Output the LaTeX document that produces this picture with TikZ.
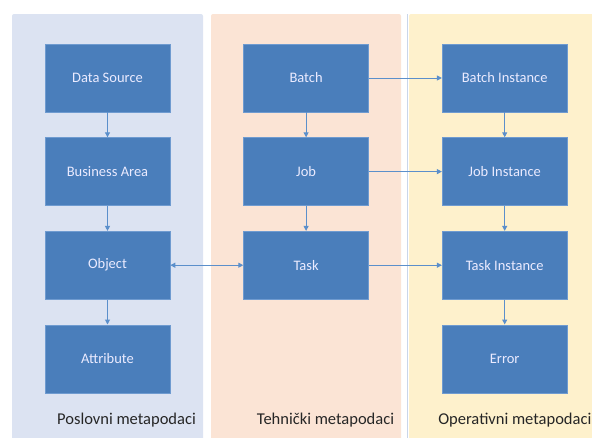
\documentclass[tikz,border=0pt]{standalone}
\usepackage{fontspec}
\setmainfont{Carlito}
\usepackage{xcolor}
\usetikzlibrary{positioning,arrows.meta}

\definecolor{boxblue}{HTML}{4A7EBB}
\definecolor{boxline}{HTML}{6F9BD0}
\definecolor{arrowblue}{HTML}{5B8FCB}
\definecolor{panelblue}{HTML}{DCE3F2}
\definecolor{panelpeach}{HTML}{FBE4D5}
\definecolor{panelyellow}{HTML}{FEF1CC}
\definecolor{sepline}{HTML}{C9D6EA}

\begin{document}
\begin{tikzpicture}[
    x=1pt, y=-1pt,
    entity/.style={rectangle, draw=boxline, fill=boxblue, line width=0.6pt,
                   minimum width=125pt, minimum height=68pt, inner sep=2pt,
                   text=white!92!blue, font=\fontsize{14.5}{17}\selectfont},
    panel/.style={draw=none, rounded corners=2pt},
    caption/.style={font=\fontsize{16.5}{20}\selectfont, text=black!85},
    arrow/.style={-{Triangle[length=5pt,width=5pt]}, line width=1pt, draw=arrowblue},
    twoway/.style={{Triangle[length=5pt,width=5pt]}-{Triangle[length=5pt,width=5pt]},
                   line width=1pt, draw=arrowblue},
    node distance=25pt and 73pt
]
\clip (0,0) rectangle (592,437);

% Background panels
\fill[panel, panelblue] (12,14) rectangle (203,460);
\fill[panel, panelpeach] (211,14) rectangle (401,460);
\fill[panel, panelyellow] (409,14) rectangle (610,460);
\draw[sepline, line width=1pt] (407.5,14) -- (407.5,460);

% Poslovni metapodaci
\node[entity] (source) at (107.5,78) {Data Source};
\node[entity, below=of source] (area) {Business Area};
\node[entity, below=of area] (object) {Object};
\node[entity, below=of object] (attribute) {Attribute};

% Tehnicki metapodaci
\node[entity, right=of source] (batch) {Batch};
\node[entity, below=of batch] (job) {Job};
\node[entity, below=of job] (task) {Task};

% Operativni metapodaci
\node[entity, right=of batch] (batchinst) {Batch Instance};
\node[entity, below=of batchinst] (jobinst) {Job Instance};
\node[entity, below=of jobinst] (taskinst) {Task Instance};
\node[entity, below=of taskinst] (error) {Error};

% Vertical arrows
\draw[arrow] (source) -- (area);
\draw[arrow] (area) -- (object);
\draw[arrow] (object) -- (attribute);
\draw[arrow] (batch) -- (job);
\draw[arrow] (job) -- (task);
\draw[arrow] (batchinst) -- (jobinst);
\draw[arrow] (jobinst) -- (taskinst);
\draw[arrow] (taskinst) -- (error);

% Horizontal arrows
\draw[twoway] (object) -- (task);
\draw[arrow] (batch) -- (batchinst);
\draw[arrow] (job) -- (jobinst);
\draw[arrow] (task) -- (taskinst);

% Panel captions
\node[caption] (poslovni) at (126.5,420) {Poslovni metapodaci};
\node[caption] (tehnicki) at (325.5,420) {Tehnički metapodaci};
\node[caption, anchor=east, inner sep=0pt] (operativni) at (591.5,420) {Operativni metapodaci};

\end{tikzpicture}
\end{document}
